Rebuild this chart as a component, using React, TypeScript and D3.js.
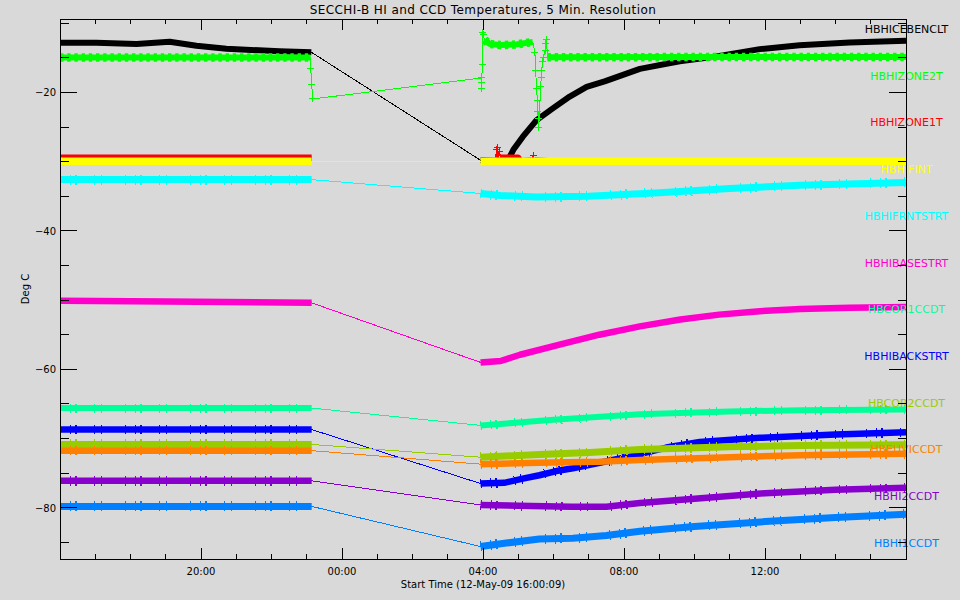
import React from 'react';
import * as d3 from 'd3';

type P = [number, number];

// ---- text ----
const TITLE = 'SECCHI-B HI and CCD Temperatures, 5 Min. Resolution';
const X_TITLE = 'Start Time (12-May-09 16:00:09)';
const Y_TITLE = 'Deg C';
const xTickHours = [4, 8, 12, 16, 20];
const xTickLabels = ['20:00', '00:00', '04:00', '08:00', '12:00'];
const yTickValues = [-80, -60, -40, -20];

const seriesNames = [
  'HBHICEBENCLT', 'HBHIZONE2T', 'HBHIZONE1T', 'HBHIFINT', 'HBHIFRNTSTRT', 'HBHIBASESTRT',
  'HBCOR1CCDT', 'HBHIBACKSTRT', 'HBCOR2CCDT', 'HBEUVICCDT', 'HBHI2CCDT', 'HBHI1CCDT',
];

// ---- data: [hours since 16:00, deg C] ----
const iceBench: P[] = [
  [0, -12.84], [1.03, -12.84], [2.17, -13.0], [3.11, -12.68], [3.87, -13.27], [4.72, -13.69],
  [6.23, -14.07], [7.13, -14.2], [11.93, -29.8], [12.7, -29.9], [12.86, -28.3], [13.13, -26.4],
  [13.52, -24.0], [13.98, -22.3], [14.46, -20.6], [14.94, -19.2], [15.45, -18.4], [16.45, -16.6],
  [17.58, -15.5], [18.71, -14.75], [19.85, -13.75], [20.98, -13.2], [22.4, -12.8], [24, -12.55],
];
const zone2: P[] = [
  [0, -14.95], [7.11, -14.95], [7.112, -16.5], [7.14, -18.8], [7.17, -20.95],
  [11.963, -17.92], [11.966, -19.51], [11.969, -18.64], [11.975, -15.9], [11.983, -11.28],
  [12.006, -11.71], [12.048, -12.43], [12.19, -13.0], [12.48, -13.16], [12.9, -13.1], [13.41, -12.72],
  [13.47, -14.21], [13.5, -16.77], [13.51, -19.37], [13.55, -21.1], [13.56, -22.83], [13.566, -23.7],
  [13.58, -25.0], [13.637, -19.22], [13.65, -17.92], [13.665, -16.77], [13.7, -15.61], [13.72, -14.89],
  [13.76, -13.88], [13.78, -12.87], [13.8, -12.43], [13.83, -14.93], [18, -14.9], [24, -14.9],
];
const zone1: P[] = [
  [0, -29.4], [7.14, -29.4], [7.15, -29.95], [11.96, -29.95], [12.35, -29.9], [12.38, -28.3],
  [12.4, -29.6], [12.42, -28.0], [12.44, -29.7], [12.47, -28.6], [12.5, -29.4], [13.0, -29.4],
  [13.05, -29.9], [13.38, -29.8], [13.42, -29.15], [13.46, -29.8], [14, -29.95], [24, -29.95],
];
const fint: P[] = [[0, -29.95], [7.14, -29.95], [11.93, -29.95], [24, -29.95]];
const frntStrt: P[] = [
  [0, -32.6], [7.14, -32.6], [11.93, -34.6], [12.5, -34.9], [13.5, -35.1], [15, -35.0],
  [17, -34.5], [19, -33.9], [21, -33.4], [24, -33.0],
];
const baseStrt: P[] = [
  [0, -50.1], [3, -50.2], [7.14, -50.4], [11.93, -59.0], [12.5, -58.8], [13.05, -57.9],
  [14.2, -56.4], [15.3, -55.0], [16.45, -53.8], [17.6, -52.8], [18.7, -52.1], [19.85, -51.6],
  [21, -51.3], [22.4, -51.1], [24, -51.0],
];
const cor1: P[] = [
  [0, -65.6], [7.14, -65.6], [11.93, -68.1], [13, -67.7], [14, -67.3], [16.45, -66.5],
  [19, -66.1], [21, -65.9], [24, -65.8],
];
const backStrt: P[] = [
  [0, -68.7], [7.14, -68.7], [11.93, -76.5], [12.6, -76.4], [13.13, -75.8], [13.6, -75.3],
  [14.08, -74.7], [14.55, -74.3], [15.03, -73.8], [15.68, -73.1], [16.25, -72.5], [17.2, -71.3],
  [18.15, -70.5], [19.85, -69.9], [22, -69.4], [24, -69.1],
];
const cor2: P[] = [
  [0, -70.85], [7.14, -70.85], [11.93, -72.7], [13.6, -72.3], [15.03, -72.0], [16.45, -71.6],
  [19, -71.2], [21, -71.0], [24, -70.9],
];
const euvi: P[] = [
  [0, -71.75], [7.14, -71.75], [11.93, -73.7], [13.6, -73.5], [15.3, -73.35], [16.45, -73.1],
  [19, -72.7], [21, -72.4], [24, -72.2],
];
const hi2: P[] = [
  [0, -76.1], [7.14, -76.1], [11.93, -79.6], [13, -79.7], [14.5, -79.85], [15.5, -79.85],
  [16.45, -79.3], [18, -78.7], [20, -77.9], [22, -77.4], [24, -77.1],
];
const hi1: P[] = [
  [0, -79.8], [7.14, -79.8], [11.93, -85.6], [12.66, -85.1], [13.6, -84.5], [14.55, -84.4],
  [15.5, -84.0], [16.45, -83.4], [18, -82.7], [20, -82.0], [22, -81.4], [24, -80.95],
];

// time windows (hours) in which samples are dense/noisy (drawn as a band)
const commonWindows: P[] = [[0, 7.14], [11.93, 24]];
const iceWindows: P[] = [[0, 7.13], [11.93, 24]];
const zone2Windows: P[] = [[0, 7.11], [12.048, 13.41], [13.83, 24]];
const zone1Windows: P[] = [[0, 7.14], [11.96, 12.35], [12.5, 13.38], [13.46, 24]];
// time windows where individual '+' samples are visible
const zone2MarkerWindows: P[] = [[7.111, 7.2], [11.96, 12.01], [13.45, 13.81]];
const zone1MarkerWindows: P[] = [[12.36, 12.49], [13.39, 13.45]];
const noMarkers: P[] = [];

const seriesData: P[][] = [iceBench, zone2, zone1, fint, frntStrt, baseStrt, cor1, backStrt, cor2, euvi, hi2, hi1];
const seriesWindows: P[][] = [
  iceWindows, zone2Windows, zone1Windows, commonWindows, commonWindows, commonWindows,
  commonWindows, commonWindows, commonWindows, commonWindows, commonWindows, commonWindows,
];
const seriesMarkerWindows: P[][] = [
  noMarkers, zone2MarkerWindows, zone1MarkerWindows, noMarkers, noMarkers, noMarkers,
  noMarkers, noMarkers, noMarkers, noMarkers, noMarkers, noMarkers,
];

// ---- style ----
const colors = [
  '#000000', '#00ff00', '#ff0000', '#ffff00', '#00ffff', '#ff00cc',
  '#00ff99', '#0000ff', '#99cc00', '#ff8000', '#8800cc', '#0080ff',
];
const bandWidths = [6, 6, 6, 7.5, 7, 6.5, 6, 6.5, 7, 6.5, 6.5, 7];
const beadedBand = [false, true, false, false, false, false, false, false, false, false, false, false];
const fringe = [false, false, false, false, true, false, true, true, true, true, true, true];

const W = 960;
const H = 600;
const M = { left: 60, right: 906, top: 19, bottom: 559 };
const FONT = 'DejaVu Sans, sans-serif';

export default function App() {
  const x = d3.scaleLinear().domain([0, 24]).range([M.left, M.right]);
  const y = d3.scaleLinear().domain([-87.4, -9.4]).range([M.bottom, M.top]);
  const line = d3.line<P>().x((d) => x(d[0])).y((d) => y(d[1]));

  const inWin = (h: number, w: P[]) => w.some(([a, b]) => h >= a && h <= b);

  const xMinor = d3.range(1, 24);
  const yMinor = d3.range(-85, -9, 5);

  const labelY0 = 33;
  const labelStep = 46.7;

  return (
    <svg width={W} height={H} style={{ position: 'absolute', left: 0, top: 0 }} fontFamily={FONT}>
      <rect x={0} y={0} width={W} height={H} fill="#d9d9d9" />
      <text x={483} y={13.5} fontSize={12} letterSpacing={0.4} textAnchor="middle" fill="#000">{TITLE}</text>

      {seriesData.map((pts, i) => {
        const wins = seriesWindows[i];
        const mWins = seriesMarkerWindows[i];
        return (
          <g key={seriesNames[i]}>
            <path d={line(pts) || ''} fill="none" stroke={colors[i]} strokeWidth={1} shapeRendering="crispEdges" />
            {wins.map((w, j) => {
              const sub = pts.filter((p) => p[0] >= w[0] && p[0] <= w[1]);
              const d = line(sub) || '';
              return (
                <g key={j}>
                  <path d={d} fill="none" stroke={colors[i]} strokeWidth={bandWidths[i]} strokeLinejoin="round" />
                  {beadedBand[i] ? (
                    <path d={d} fill="none" stroke={colors[i]} strokeWidth={bandWidths[i] + 2.5} strokeDasharray="3.4,3.8" />
                  ) : null}
                  {fringe[i] ? (
                    <path d={d} fill="none" stroke={colors[i]} strokeWidth={bandWidths[i] + 3} strokeDasharray="1,9,1,4,2,17,1,6,1,23" shapeRendering="crispEdges" />
                  ) : null}
                </g>
              );
            })}
            {pts
              .filter((p) => inWin(p[0], mWins))
              .map((p, k) => (
                <path
                  key={k}
                  d={`M${x(p[0]) - 3.5},${y(p[1])}h7M${x(p[0])},${y(p[1]) - 3.5}v7`}
                  stroke={colors[i]}
                  strokeWidth={1}
                  shapeRendering="crispEdges"
                />
              ))}
            <text x={906.5} y={labelY0 + i * labelStep} fontSize={11} textAnchor="middle" fill={colors[i]}>
              {seriesNames[i]}
            </text>
          </g>
        );
      })}

      {/* axes */}
      <g stroke="#000" strokeWidth={1} shapeRendering="crispEdges" fill="none">
        <rect x={M.left} y={M.top} width={M.right - M.left} height={M.bottom - M.top} />
        {xMinor.map((h) => {
          const major = h % 4 === 0;
          const len = major ? 11 : 5;
          return (
            <g key={h}>
              <line x1={x(h)} x2={x(h)} y1={M.bottom} y2={M.bottom - len} />
              <line x1={x(h)} x2={x(h)} y1={M.top} y2={M.top + len} />
            </g>
          );
        })}
        {yMinor.map((v) => {
          const major = v % 20 === 0;
          const len = major ? 17 : 8.5;
          return (
            <g key={v}>
              <line x1={M.left} x2={M.left + len} y1={y(v)} y2={y(v)} />
              <line x1={M.right} x2={M.right - len} y1={y(v)} y2={y(v)} />
            </g>
          );
        })}
      </g>

      {xTickHours.map((h, i) => (
        <text key={h} x={x(h)} y={575} fontSize={10} textAnchor="middle" fill="#000">{xTickLabels[i]}</text>
      ))}
      <text x={483} y={588} fontSize={10} textAnchor="middle" fill="#000">{X_TITLE}</text>

      {yTickValues.map((v) => (
        <text key={v} x={56} y={y(v) + 4} fontSize={10} textAnchor="end" fill="#000">{'\u2212' + Math.abs(v)}</text>
      ))}
      <text transform={`translate(29,289) rotate(-90)`} fontSize={10} textAnchor="middle" fill="#000">{Y_TITLE}</text>
    </svg>
  );
}
